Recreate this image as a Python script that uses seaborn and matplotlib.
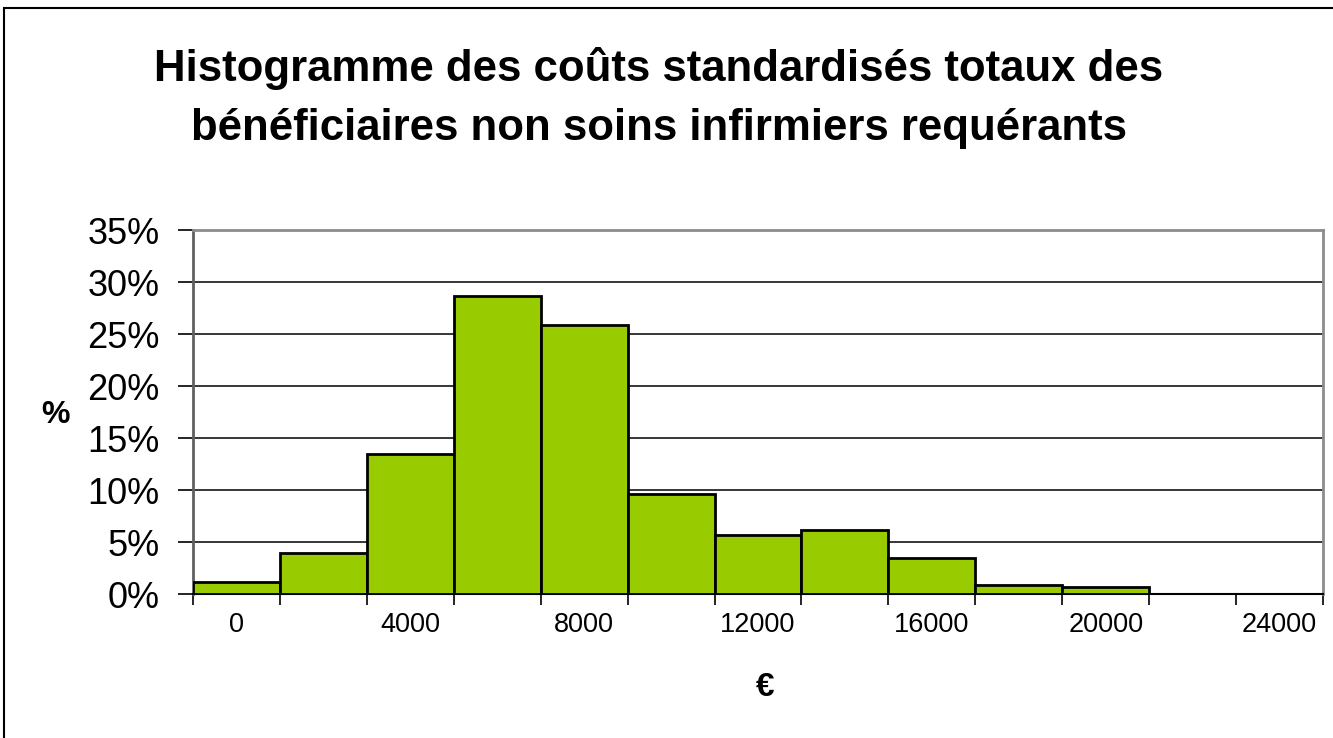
import numpy as np
import pandas as pd
import seaborn as sns
import matplotlib.pyplot as plt
from matplotlib.patches import Rectangle

# Cost classes (EUR) and share of beneficiaries (%)
classes = [0, 2000, 4000, 6000, 8000, 10000, 12000, 14000, 16000, 18000, 20000, 22000, 24000]
shares = [1.15, 3.9, 13.5, 28.7, 25.9, 9.6, 5.7, 6.15, 3.5, 0.9, 0.7, 0.0, 0.0]
y_ticks = [0, 5, 10, 15, 20, 25, 30, 35]

df = pd.DataFrame({"classe": [str(c) for c in classes], "pct": shares})

sns.set_style("white")
plt.rcParams["font.family"] = ["Liberation Sans", "DejaVu Sans"]
plt.rcParams["text.color"] = "black"
plt.rcParams["xtick.color"] = "black"
plt.rcParams["ytick.color"] = "black"
plt.rcParams["axes.labelcolor"] = "black"

fig = plt.figure(figsize=(13.33, 7.38), dpi=100)
ax = fig.add_axes([0.1448, 0.1951, 0.8477, 0.4932])

sns.barplot(data=df, x="classe", y="pct", color="#99CC00", width=1.0,
            edgecolor="black", linewidth=2, saturation=1, ax=ax, zorder=3)

ax.set_xlim(-0.5, len(classes) - 0.5)
ax.set_ylim(0, 35)

# y axis
ax.set_yticks(y_ticks)
ax.set_yticklabels([f"{v}%" for v in y_ticks], fontsize=26)
ax.tick_params(axis="y", direction="out", length=11, width=1.2, pad=13, left=True)
ax.yaxis.grid(True, color="black", linewidth=1.1, zorder=0)
ax.set_axisbelow(True)

# x axis: ticks between bars, labels every other class
ax.set_xticks(np.arange(-0.5, len(classes), 1))
ax.set_xticklabels([])
ax.set_xticks(range(0, len(classes), 2), minor=True)
ax.set_xticklabels([str(classes[i]) for i in range(0, len(classes), 2)], minor=True, fontsize=19.5)
ax.tick_params(axis="x", which="major", direction="out", length=8, width=1.2, bottom=True)
ax.tick_params(axis="x", which="minor", length=0, pad=13)

ax.set_ylabel("%", rotation=0, fontsize=23, fontweight="bold")
ax.yaxis.set_label_coords(-0.122, 0.492)
ax.yaxis.label.set_va("center")
ax.set_xlabel("€", fontsize=24, fontweight="bold")
ax.xaxis.set_label_coords(0.506, -0.258)
ax.xaxis.label.set_va("center")

for side in ["top", "right"]:
    ax.spines[side].set_visible(True)
    ax.spines[side].set_color("#8c8c8c")
    ax.spines[side].set_linewidth(2)
ax.spines["left"].set_color("#606060")
ax.spines["left"].set_linewidth(2)
ax.spines["bottom"].set_color("black")
ax.spines["bottom"].set_linewidth(1.5)

fig.text(0.494, 0.867,
         "Histogramme des coûts standardisés totaux des\nbénéficiaires non soins infirmiers requérants",
         ha="center", va="center", fontsize=31.5, fontweight="bold", linespacing=1.55)

# outer chart border
fig.patches.append(Rectangle((4 / 1333, -0.1), 1.2, 1.1 - 8 / 738,
                             transform=fig.transFigure, fill=False,
                             edgecolor="black", linewidth=1.5, clip_on=False))

fig.savefig("out.png", dpi=100)
